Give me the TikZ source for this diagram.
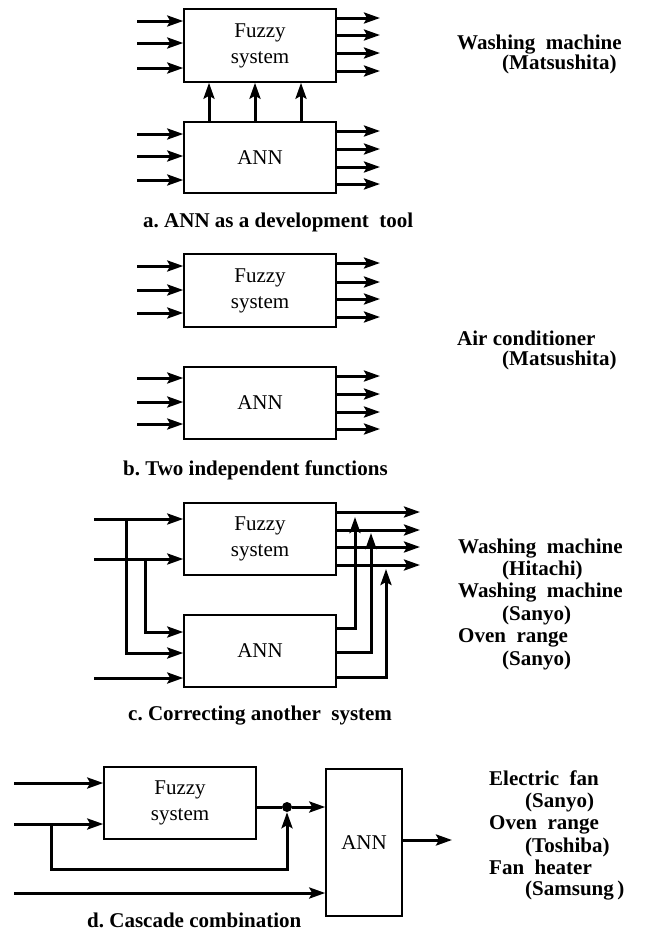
\documentclass[tikz,border=0pt]{standalone}
\usepackage{fontspec}
\setmainfont{Liberation Serif}
\usetikzlibrary{arrows.meta}
\frenchspacing
\begin{document}
\begin{tikzpicture}[x=1pt,y=-1pt,
  box/.style={draw, line width=1.5pt, minimum width=152pt, minimum height=73pt, inner sep=0pt,
    align=center, font=\fontsize{21}{26}\selectfont},
  arr/.style={line width=3pt, -{Stealth[length=16pt,width=11pt,inset=3pt]}},
  wire/.style={line width=3pt},
  lab/.style={anchor=base west, inner sep=0pt, font=\bfseries\fontsize{21}{24}\selectfont},
  dot/.style={circle, fill, inner sep=0pt, minimum size=10pt}]
\useasboundingbox (0,0) rectangle (645,932);

% ---------- a ----------
\node[box] (fa) at (260,45.5) {Fuzzy\\system};
\node[box, minimum height=71pt] (na) at (260,157.5) {ANN};
\foreach \y [count=\i] in {21,43,68} {\coordinate (ai\i) at (137,\y); \draw[arr] (ai\i) -- (ai\i -| fa.west);}
\foreach \y [count=\i] in {134,156,180} {\coordinate (aj\i) at (137,\y); \draw[arr] (aj\i) -- (aj\i -| na.west);}
\foreach \y [count=\i] in {18,35,53,71} {\coordinate (ao\i) at (380,\y); \draw[arr] (ao\i -| fa.east) -- (ao\i);}
\foreach \y [count=\i] in {131,149,167,184} {\coordinate (ap\i) at (380,\y); \draw[arr] (ap\i -| na.east) -- (ap\i);}
\foreach \x in {209,255,301} {\draw[arr] (\x,0 |- na.north) -- (\x,0 |- fa.south);}
\node[lab] (ta) at (143,227) {a. ANN as a development\ \ tool};
\node[lab] (la1) at (457,49) {Washing\ \ machine};
\node[lab] (la2) at (502,69) {(Matsushita)};

% ---------- b ----------
\node[box] (fb) at (260,290.5) {Fuzzy\\system};
\node[box, minimum height=72pt] (nb) at (260,403) {ANN};
\foreach \y [count=\i] in {266,290,313} {\coordinate (bi\i) at (137,\y); \draw[arr] (bi\i) -- (bi\i -| fb.west);}
\foreach \y [count=\i] in {378,402,424} {\coordinate (bj\i) at (137,\y); \draw[arr] (bj\i) -- (bj\i -| nb.west);}
\foreach \y [count=\i] in {263,282,299,317} {\coordinate (bo\i) at (380,\y); \draw[arr] (bo\i -| fb.east) -- (bo\i);}
\foreach \y [count=\i] in {376,394,412,429} {\coordinate (bp\i) at (380,\y); \draw[arr] (bp\i -| nb.east) -- (bp\i);}
\node[lab] (tb) at (123,475) {b. Two independent functions};
\node[lab] (lb1) at (457,345) {Air conditioner};
\node[lab] (lb2) at (502,365) {(Matsushita)};

% ---------- c ----------
\node[box, minimum height=72pt] (fc) at (260,539) {Fuzzy\\system};
\node[box, minimum height=72pt] (nc) at (260,651) {ANN};
\coordinate (ci1) at (94,519);
\coordinate (ci2) at (94,559);
\coordinate (ci3) at (94,678);
\draw[arr] (ci1) -- (ci1 -| fc.west);
\draw[arr] (ci2) -- (ci2 -| fc.west);
\draw[arr] (ci3) -- (ci3 -| nc.west);
\coordinate (cb1) at (126,519);
\coordinate (cb2) at (145,559);
\draw[arr] (cb1) -- (126,653) -- (126,653 -| nc.west);
\draw[arr] (cb2) -- (145,632) -- (145,632 -| nc.west);
\foreach \y [count=\i] in {512,530,547,565} {\coordinate (co\i) at (420,\y); \draw[arr] (co\i -| fc.east) -- (co\i);}
\coordinate (cu1) at (355,517);
\coordinate (cu2) at (371,533);
\coordinate (cu3) at (386,569);
\draw[arr] (nc.east |- 0,628) -- (cu1 |- 0,628) -- (cu1);
\draw[arr] (nc.east |- 0,652) -- (cu2 |- 0,652) -- (cu2);
\draw[arr] (nc.east |- 0,677) -- (cu3 |- 0,677) -- (cu3);
\node[lab] (tc) at (128,720) {c. Correcting another\ \ system};
\node[lab] (lc1) at (458,553) {Washing\ \ machine};
\node[lab] (lc2) at (502,575) {(Hitachi)};
\node[lab] (lc3) at (458,597) {Washing\ \ machine};
\node[lab] (lc4) at (502,620) {(Sanyo)};
\node[lab] (lc5) at (458,642) {Oven\ \ range};
\node[lab] (lc6) at (502,665) {(Sanyo)};

% ---------- d ----------
\node[box, minimum height=72pt] (fd) at (180,803) {Fuzzy\\system};
\node[box, minimum width=76pt, minimum height=147pt] (nd) at (364,842.5) {ANN};
\coordinate (di1) at (14,783);
\coordinate (di2) at (14,824);
\coordinate (di3) at (14,893);
\draw[arr] (di1) -- (di1 -| fd.west);
\draw[arr] (di2) -- (di2 -| fd.west);
\draw[arr] (di3) -- (di3 -| nd.west);
\node[dot] (jn) at (287,807) {};
\coordinate (db) at (51,824);
\draw[arr] (db) -- (51,869) -- (287,869) -- (jn.south);
\draw[wire] (fd.east |- jn) -- (jn);
\draw[arr] (jn) -- (jn -| nd.west);
\coordinate (dout) at (452,840);
\draw[arr] (dout -| nd.east) -- (dout);
\node[lab] (td) at (87,927) {d. Cascade combination};
\node[lab] (ld1) at (489,785) {Electric\ \ fan};
\node[lab] (ld2) at (525,807) {(Sanyo)};
\node[lab] (ld3) at (489,829) {Oven\ \ range};
\node[lab] (ld4) at (525,852) {(Toshiba)};
\node[lab] (ld5) at (489,874) {Fan\ \ heater};
\node[lab] (ld6) at (525,895) {(Samsung\,)};
\end{tikzpicture}
\end{document}
